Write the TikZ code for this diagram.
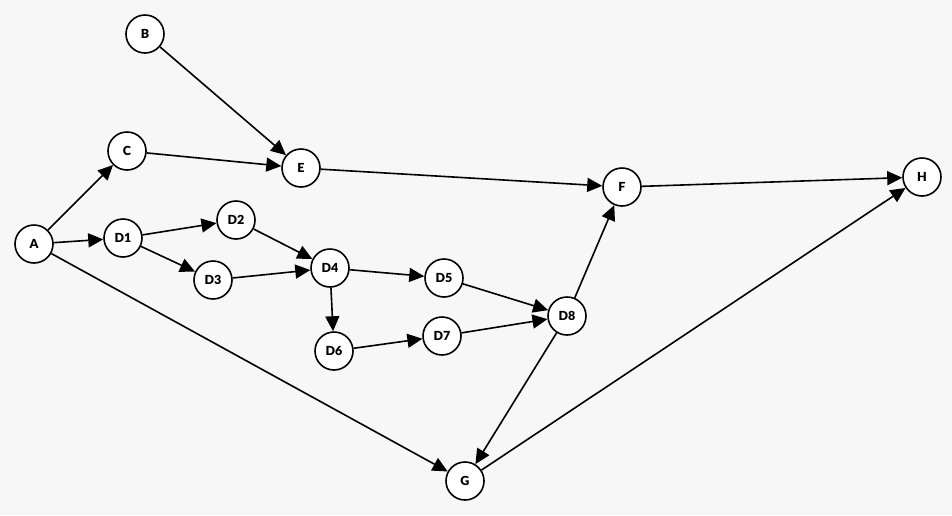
\documentclass[tikz,border=0pt]{standalone}
\usepackage{fontspec}
\setmainfont{Lato}[UprightFont=* Bold]
\usetikzlibrary{arrows.meta}
\begin{document}
\begin{tikzpicture}[x=1pt,y=-1pt,
  vert/.style={circle,draw=black,line width=1.6pt,fill=white,minimum size=38pt,inner sep=0pt,font=\fontsize{12.5}{12.5}\selectfont\bfseries},
  edge/.style={line width=1.6pt,-{Triangle[length=15pt,width=14pt]}}]
\fill[fill={rgb,255:red,247;green,247;blue,247}] (0,0) rectangle (952,515);
\useasboundingbox (0,0) rectangle (952,515);
\node[vert] (A) at (34,244) {A};
\node[vert] (B) at (145,34) {B};
\node[vert] (C) at (127,151) {C};
\node[vert] (E) at (301,168) {E};
\node[vert] (F) at (622,187) {F};
\node[vert] (H) at (922,177) {H};
\node[vert] (D1) at (123,238) {D1};
\node[vert] (D2) at (236,220) {D2};
\node[vert] (D3) at (213,280) {D3};
\node[vert] (D4) at (330,268) {D4};
\node[vert] (D5) at (444,278) {D5};
\node[vert] (D6) at (334,351) {D6};
\node[vert] (D7) at (442,336) {D7};
\node[vert] (D8) at (567,316) {D8};
\node[vert] (G) at (465,481) {G};
\draw[edge] (A) -- (C);
\draw[edge] (A) -- (D1);
\draw[edge] (A) -- (G);
\draw[edge] (B) -- (E);
\draw[edge] (C) -- (E);
\draw[edge] (E) -- (F);
\draw[edge] (F) -- (H);
\draw[edge] (D1) -- (D2);
\draw[edge] (D1) -- (D3);
\draw[edge] (D2) -- (D4);
\draw[edge] (D3) -- (D4);
\draw[edge] (D4) -- (D5);
\draw[edge] (D4) -- (D6);
\draw[edge] (D6) -- (D7);
\draw[edge] (D5) -- (D8);
\draw[edge] (D7) -- (D8);
\draw[edge] (D8) -- (F);
\draw[edge] (D8) -- (G);
\draw[edge] (G) -- (H);
\end{tikzpicture}
\end{document}
